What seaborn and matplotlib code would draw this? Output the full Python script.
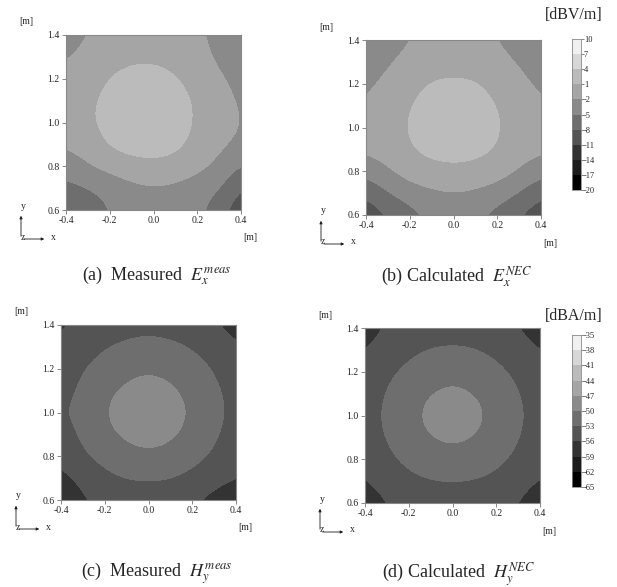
import numpy as np
import matplotlib
matplotlib.use("Agg")
import matplotlib.pyplot as plt
from matplotlib.colors import ListedColormap, BoundaryNorm
import seaborn as sns

# grid of the scan plane (x across, height y), rows listed from top (y=1.4) down
x_pos = [-0.4, -0.3, -0.2, -0.1, 0.0, 0.1, 0.2, 0.3, 0.4]
y_pos = [1.4, 1.3, 1.2, 1.1, 1.0, 0.9, 0.8, 0.7, 0.6]

e_levels = [-20, -17, -14, -11, -8, -5, -2, 1, 4, 7, 10]
h_levels = [-65, -62, -59, -56, -53, -50, -47, -44, -41, -38, -35]
gray_steps = ['#000000', '#1c1c1c', '#333333', '#545454', '#6e6e6e',
              '#8a8a8a', '#a5a5a5', '#bbbbbb', '#d7d7d7', '#f0f0f0']

# E_x measured [dBV/m]
ex_meas = [
    [-3.5, -2.0, -1.0, -0.5, -0.4, -0.7, -1.4, -3.0, -5.3],
    [-2.4, -1.0, -0.1, 0.4, 0.5, 0.1, -0.8, -2.6, -3.8],
    [-1.2, -0.3, 1.1, 2.0, 2.0, 1.2, -0.1, -1.6, -2.8],
    [-0.6, 0.4, 1.9, 2.8, 2.9, 2.3, 0.6, -1.2, -2.3],
    [-0.5, 0.6, 2.0, 3.0, 3.1, 2.5, 0.7, -1.0, -2.2],
    [-1.6, -0.6, 1.6, 2.2, 2.3, 1.8, 0.2, -1.3, -2.4],
    [-3.6, -2.1, -0.9, 0.2, 0.5, 0.2, -1.0, -2.6, -5.1],
    [-5.8, -5.0, -4.0, -2.8, -2.3, -2.7, -3.6, -4.4, -8.3],
    [-8.6, -6.8, -4.9, -3.8, -3.3, -3.6, -3.9, -6.8, -10.0],
]

# E_x calculated by NEC [dBV/m]
ex_nec = [
    [-4.3, -3.3, -2.1, -1.0, -0.6, -1.0, -2.1, -3.3, -4.3],
    [-3.4, -2.3, -1.0, -0.3, 0.0, -0.3, -1.0, -2.3, -3.4],
    [-2.6, -1.3, 0.1, 1.4, 1.5, 1.4, 0.1, -1.3, -2.6],
    [-1.8, -0.4, 1.05, 2.1, 2.4, 2.1, 1.05, -0.4, -1.8],
    [-1.3, -0.2, 1.3, 2.3, 2.6, 2.3, 1.3, -0.2, -1.3],
    [-1.3, -0.6, 1.0, 1.8, 2.0, 1.8, 1.0, -0.6, -1.3],
    [-3.9, -2.2, -0.5, 0.3, 0.6, 0.3, -0.5, -2.2, -3.9],
    [-7.6, -5.0, -3.4, -2.5, -2.1, -2.5, -3.4, -5.0, -7.6],
    [-10.0, -8.1, -6.0, -4.5, -3.6, -4.5, -6.0, -8.1, -10.0],
]

# H_y measured [dBA/m]
hy_meas = [
    [-56.4, -55.6, -54.9, -54.2, -53.9, -54.2, -54.9, -55.8, -57.0],
    [-55.6, -54.4, -53.1, -52.3, -52.0, -52.3, -53.1, -54.4, -55.8],
    [-54.9, -53.1, -51.7, -50.6, -50.15, -50.6, -51.7, -53.1, -54.9],
    [-54.2, -52.3, -50.4, -49.5, -49.0, -49.5, -50.6, -52.3, -54.2],
    [-53.3, -52.0, -49.95, -49.0, -48.0, -49.0, -50.15, -52.0, -53.9],
    [-54.4, -52.4, -50.4, -49.5, -49.0, -49.5, -50.6, -52.4, -54.4],
    [-55.4, -53.4, -51.9, -50.7, -50.3, -50.7, -51.9, -53.4, -55.2],
    [-56.8, -55.1, -53.8, -52.8, -52.6, -52.8, -53.8, -55.0, -55.9],
    [-58.5, -56.3, -55.3, -55.0, -54.8, -55.0, -55.8, -56.8, -57.8],
]

# H_y calculated by NEC [dBA/m]
hy_nec = [
    [-57.1, -55.8, -55.1, -54.5, -54.3, -54.5, -55.1, -56.1, -57.1],
    [-56.2, -54.7, -53.6, -52.8, -52.6, -52.8, -53.6, -54.7, -56.2],
    [-55.1, -53.6, -52.3, -51.25, -50.6, -51.25, -52.3, -53.6, -55.1],
    [-54.5, -52.8, -51.0, -49.88, -49.42, -49.88, -51.0, -52.8, -54.5],
    [-54.0, -52.57, -50.5, -49.42, -48.3, -49.42, -50.5, -52.57, -54.0],
    [-54.5, -52.8, -51.0, -49.9, -49.42, -49.9, -51.0, -52.8, -54.5],
    [-55.1, -53.6, -52.3, -51.3, -50.8, -51.3, -52.3, -53.6, -55.1],
    [-56.3, -54.7, -53.6, -53.1, -52.95, -53.1, -53.6, -54.7, -56.3],
    [-57.5, -56.1, -55.1, -54.6, -54.5, -54.6, -55.1, -56.1, -57.5],
]

sns.set_theme(style="white")
plt.rcParams['font.family'] = ['Liberation Serif', 'DejaVu Serif']
plt.rcParams['mathtext.fontset'] = 'stix'
plt.rcParams['axes.unicode_minus'] = False

W, H = 617, 587
fig = plt.figure(figsize=(W / 100, H / 100), dpi=100)


def fx(px):
    return px / W


def fy(py):
    return 1 - py / H


grays = ListedColormap(gray_steps)
step_x = x_pos[1] - x_pos[0]
step_y = y_pos[0] - y_pos[1]
extent = [x_pos[0] - step_x / 2, x_pos[-1] + step_x / 2,
          y_pos[-1] - step_y / 2, y_pos[0] + step_y / 2]

# (left, top) of each plot box in pixels, box size 175 px
panels = [
    (66, 35, ex_meas, e_levels, r"(a)  Measured  $E_x^{meas}$", 157, 280),
    (366, 40, ex_nec, e_levels, r"(b) Calculated  $E_x^{NEC}$", 457, 282),
    (61, 325, hy_meas, h_levels, r"(c)  Measured  $H_y^{meas}$", 157, 577),
    (365, 328, hy_nec, h_levels, r"(d) Calculated  $H_y^{NEC}$", 459, 578),
]
spine_c = '#888888'
maps = []
for left, top, grid, levels, caption, cx, cy in panels:
    ax = fig.add_axes([fx(left), fy(top + 175), 175 / W, 175 / H])
    im = ax.imshow(np.array(grid), extent=extent, origin='upper', aspect='auto',
                   cmap=grays, norm=BoundaryNorm(levels, grays.N),
                   interpolation='bicubic', interpolation_stage='data')
    maps.append((im, levels))
    ax.set_xlim(-0.4, 0.4)
    ax.set_ylim(0.6, 1.4)
    ax.set_xticks([-0.4, -0.2, 0.0, 0.2, 0.4])
    ax.set_xticklabels(["-0.4", "-0.2", "0.0", "0.2", "0.4"])
    ax.set_yticks([0.6, 0.8, 1.0, 1.2, 1.4])
    ax.set_yticklabels(["0.6", "0.8", "1.0", "1.2", "1.4"])
    ax.tick_params(direction='out', length=3, width=0.7, color=spine_c,
                   labelsize=7, pad=1.5, bottom=True, left=True)
    for s in ax.spines.values():
        s.set_color(spine_c)
        s.set_linewidth(0.8)
    fig.text(fx(left - 40), fy(top - 13), "[m]", fontsize=7, ha='center', va='center')
    fig.text(fx(left + 184), fy(top + 203), "[m]", fontsize=7, ha='center', va='center')
    # small coordinate icon
    ox, oy = left - 45, top + 175 + 29
    ax.annotate("", xy=(fx(ox), fy(oy - 26)), xytext=(fx(ox), fy(oy)),
                xycoords='figure fraction', textcoords='figure fraction',
                arrowprops=dict(arrowstyle='-|>', lw=0.6, color='k', mutation_scale=4))
    ax.annotate("", xy=(fx(ox + 26), fy(oy)), xytext=(fx(ox), fy(oy)),
                xycoords='figure fraction', textcoords='figure fraction',
                arrowprops=dict(arrowstyle='-|>', lw=0.6, color='k', mutation_scale=4))
    fig.text(fx(ox + 2), fy(oy - 33), "y", fontsize=7, ha='center', va='center')
    fig.text(fx(ox + 32), fy(oy - 2), "x", fontsize=7, ha='center', va='center')
    fig.text(fx(ox + 2), fy(oy - 2), "z", fontsize=7, ha='center', va='center')
    fig.text(fx(cx), fy(cy), caption, fontsize=13, ha='center', va='baseline')

# colour scales on the right
for (im, levels), (top, bottom), unit, uy in [(maps[1], (39, 190), "[dBV/m]", 15),
                                              (maps[3], (335, 487), "[dBA/m]", 316)]:
    cax = fig.add_axes([fx(572), fy(bottom), 8.5 / W, (bottom - top) / H])
    cb = fig.colorbar(im, cax=cax, ticks=levels)
    cb.ax.set_yticklabels([str(v) for v in levels])
    cb.ax.tick_params(labelsize=6, length=2, width=0.5, pad=0.5, color='#555555', right=True)
    cb.outline.set_edgecolor(spine_c)
    cb.outline.set_linewidth(0.6)
    fig.text(fx(574), fy(uy), unit, fontsize=11.5, ha='center', va='center')

fig.savefig("out.png", dpi=100)
